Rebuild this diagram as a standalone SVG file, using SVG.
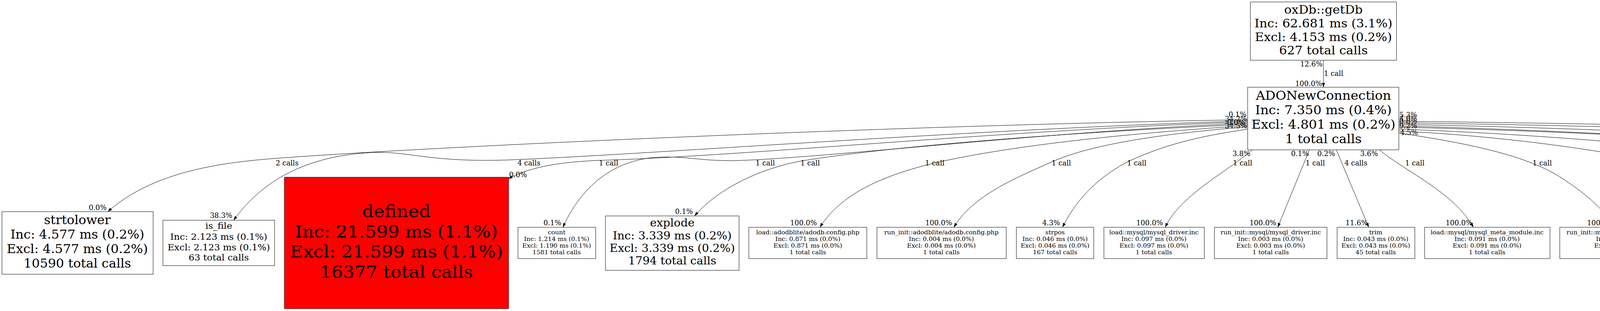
<svg xmlns="http://www.w3.org/2000/svg" width="7268" height="795" viewBox="0 0 7268 795">
<style>
rect{fill:#fff;stroke:#000;stroke-width:1}
rect.hot{fill:#ff0000}
text{font-family:"DejaVu Serif","Liberation Serif",serif;text-anchor:middle;fill:#000}
.n text{transform-box:fill-box;transform-origin:50% 50%}
.s text{font-size:14.4px;transform:scaleX(1.1)}
.x105 text{transform:scaleX(1.05)}
.x107 text{transform:scaleX(1.07)}
.x108 text{transform:scaleX(1.08)}
.x109 text{transform:scaleX(1.09)}
.l{font-size:18px}
.e path{fill:none;stroke:#000;stroke-width:1;marker-end:url(#ah)}
</style>
<defs>
<marker id="ah" markerUnits="userSpaceOnUse" markerWidth="11" markerHeight="8" viewBox="0 0 10 7" refX="10" refY="3.5" orient="auto"><path d="M0,0 L10,3.5 L0,7 z" fill="#000"/></marker>
</defs>
<rect x="0" y="0" width="7268" height="795" style="fill:#fff;stroke:none"/>

<g id="edges" class="e">
<path d="M3388,154 L3388,223"/>
<path d="M3194,306 C2300,320 1100,375 704,405 C560,416 390,440 276,541"/>
<path d="M3194,309 C2500,330 1700,392 1323,408 C1100,418 1050,385 950,390 C800,398 680,450 598,563"/>
<path d="M3194,312 C2600,330 1900,400 1532,410 C1440,414 1360,425 1301,457"/>
<path d="M3194,315 C2700,335 2150,400 1900,410 C1800,414 1760,398 1684,402 C1600,406 1500,450 1441,581"/>
<path d="M3194,318 C2800,335 2300,370 2049,412 C1950,430 1840,480 1778,552"/>
<path d="M3194,321 C2900,340 2600,370 2400,415 C2250,450 2150,500 2099,581"/>
<path d="M3194,324 C3000,340 2800,365 2690,415 C2600,455 2490,500 2442,581"/>
<path d="M3194,330 C3100,345 3000,360 2884,415 C2800,460 2750,520 2720,581"/>
<path d="M3206,383 C3140,440 3020,500 2983,581"/>
<path d="M3352,383 L3271,581"/>
<path d="M3421,383 L3504,581"/>
<path d="M3531,383 C3600,440 3720,490 3772,581"/>
<path d="M3581,340 C3750,365 3900,395 3990,450 C4060,495 4100,530 4135,581"/>
<path d="M3581,335 C3900,350 4200,400 4300,430 C4400,470 4460,510 4508,581"/>
<path d="M3581,330 C4000,345 4500,390 4660,430 C4760,470 4830,510 4883,581"/>
<path d="M3581,325 C4200,340 4850,380 5040,425 C5150,460 5220,510 5273,581"/>
<path d="M3581,322 C4300,340 4900,395 5100,410 C5250,415 5300,405 5400,418 C5530,440 5610,500 5664,581"/>
<path d="M3581,318 C4500,335 5300,400 5500,408 C5650,412 5750,405 5840,420 C5950,450 6030,510 6067,581"/>
<path d="M3581,314 C4800,330 5800,395 6100,410 C6250,418 6400,470 6471,581"/>
<path d="M3581,310 C5000,325 6000,385 6400,411 C6550,416 6620,420 6700,450 C6820,500 6900,530 6948,581"/>
</g>

<g id="edge-labels" class="l">
<text x="3357" y="170">12.6%</text><text x="3414" y="194">1 call</text><text x="3350" y="220">100.0%</text>
<text x="735" y="423">2 calls</text>
<text x="1354" y="423">4 calls</text>
<text x="1558" y="423">1 call</text>
<text x="1959" y="423">1 call</text>
<text x="2074" y="423">1 call</text>
<text x="2393" y="423">1 call</text>
<text x="2717" y="423">1 call</text>
<text x="2910" y="423">1 call</text>
<text x="3181" y="423">1 call</text>
<text x="3367" y="423">1 call</text>
<text x="3471" y="423">4 calls</text>
<text x="3622" y="423">1 call</text>
<text x="3948" y="423">1 call</text>
<text x="4310" y="423">1 call</text>
<text x="4667" y="423">1 call</text>
<text x="5064" y="423">1 call</text>
<text x="5446" y="423">1 call</text>
<text x="5862" y="423">1 call</text>
<text x="6249" y="423">1 call</text>
<text x="6655" y="423">1 call</text>
<text x="250" y="537">0.0%</text>
<text x="566" y="557">38.3%</text>
<text x="1326" y="453">0.0%</text>
<text x="1414" y="576">0.1%</text>
<text x="1751" y="547">0.1%</text>
<text x="2057" y="576">100.0%</text>
<text x="2403" y="576">100.0%</text>
<text x="2691" y="576">4.3%</text>
<text x="2943" y="576">100.0%</text>
<text x="3233" y="576">100.0%</text>
<text x="3473" y="576">11.6%</text>
<text x="3735" y="576">100.0%</text>
<text x="4097" y="576">100.0%</text>
<text x="4470" y="576">100.0%</text>
<text x="4845" y="576">100.0%</text>
<text x="5234" y="576">100.0%</text>
<text x="5625" y="576">100.0%</text>
<text x="6030" y="576">100.0%</text>
<text x="6434" y="576">100.0%</text>
<text x="6910" y="576">100.0%</text>
<text x="3178" y="399">3.8%</text>
<text x="3328" y="399">0.1%</text>
<text x="3395" y="399">0.2%</text>
<text x="3505" y="399">3.6%</text>
<text x="3168" y="299">0.1%</text>
<text x="3217" y="302">0.2%</text>
<text x="3164" y="310">34.2%</text>
<text x="3217" y="311">0.6%</text>
<text x="3164" y="319">0.0%</text>
<text x="3164" y="328">34.5%</text>
<text x="3217" y="334">0.4%</text>
<text x="3556" y="299">2.1%</text>
<text x="3605" y="300">5.3%</text>
<text x="3605" y="309">4.0%</text>
<text x="3605" y="316">0.0%</text>
<text x="3556" y="325">0.0%</text>
<text x="3605" y="328">9.2%</text>
<text x="3607" y="345">4.5%</text>
</g>

<g id="n-oxdb" class="n x109" style="font-size:29px"><rect x="3201" y="5" width="374" height="149"/>
<text x="3388" y="35.5">oxDb::getDb</text><text x="3388" y="70.5">Inc: 62.681 ms (3.1%)</text><text x="3388" y="105.5">Excl: 4.153 ms (0.2%)</text><text x="3388" y="139">627 total calls</text></g>

<g id="n-adonew" class="n x107" style="font-size:31px"><rect x="3194" y="223" width="387" height="160"/>
<text x="3388" y="255.5">ADONewConnection</text><text x="3388" y="292.5">Inc: 7.350 ms (0.4%)</text><text x="3388" y="329.5">Excl: 4.801 ms (0.2%)</text><text x="3388" y="366.5">1 total calls</text></g>

<g id="n-strtolower" class="n x105" style="font-size:31px"><rect x="5" y="541" width="387" height="160"/>
<text x="198" y="573">strtolower</text><text x="198" y="610">Inc: 4.577 ms (0.2%)</text><text x="198" y="647">Excl: 4.577 ms (0.2%)</text><text x="198" y="684">10590 total calls</text></g>

<g id="n-is_file" class="n x105" style="font-size:22.5px"><rect x="417" y="563" width="286" height="116"/>
<text x="560" y="585">is_file</text><text x="560" y="613">Inc: 2.123 ms (0.1%)</text><text x="560" y="640">Excl: 2.123 ms (0.1%)</text><text x="560" y="666">63 total calls</text></g>

<g id="n-defined" class="n x108" style="font-size:43px"><rect class="hot" x="728" y="453" width="574" height="336"/>
<text x="1015" y="555">defined</text><text x="1015" y="607">Inc: 21.599 ms (1.1%)</text><text x="1015" y="658">Excl: 21.599 ms (1.1%)</text><text x="1015" y="710">16377 total calls</text></g>

<g id="n-count" class="n s"><rect x="1326" y="581" width="199" height="80"/>
<text x="1425" y="599">count</text><text x="1425" y="616">Inc: 1.214 ms (0.1%)</text><text x="1425" y="633">Excl: 1.190 ms (0.1%)</text><text x="1425" y="650">1581 total calls</text></g>

<g id="n-explode" class="n x107" style="font-size:27px"><rect x="1550" y="552" width="342" height="139"/>
<text x="1721" y="579">explode</text><text x="1721" y="612">Inc: 3.339 ms (0.2%)</text><text x="1721" y="644">Excl: 3.339 ms (0.2%)</text><text x="1721" y="676">1794 total calls</text></g>

<g id="n-load-adodb-config" class="n s"><rect x="1917" y="581" width="302" height="80"/>
<text x="2068" y="599">load::adodblite/adodb.config.php</text><text x="2068" y="616">Inc: 0.871 ms (0.0%)</text><text x="2068" y="633">Excl: 0.871 ms (0.0%)</text><text x="2068" y="650">1 total calls</text></g>

<g id="n-run-adodb-config" class="n s"><rect x="2245" y="581" width="331" height="80"/>
<text x="2410" y="599">run_init::adodblite/adodb.config.php</text><text x="2410" y="616">Inc: 0.004 ms (0.0%)</text><text x="2410" y="633">Excl: 0.004 ms (0.0%)</text><text x="2410" y="650">1 total calls</text></g>

<g id="n-strpos" class="n s"><rect x="2602" y="581" width="198" height="80"/>
<text x="2701" y="599">strpos</text><text x="2701" y="616">Inc: 0.046 ms (0.0%)</text><text x="2701" y="633">Excl: 0.046 ms (0.0%)</text><text x="2701" y="650">167 total calls</text></g>

<g id="n-load-mysql-driver" class="n s"><rect x="2826" y="581" width="257" height="80"/>
<text x="2954" y="599">load::mysql/mysql_driver.inc</text><text x="2954" y="616">Inc: 0.097 ms (0.0%)</text><text x="2954" y="633">Excl: 0.097 ms (0.0%)</text><text x="2954" y="650">1 total calls</text></g>

<g id="n-run-mysql-driver" class="n s"><rect x="3109" y="581" width="288" height="80"/>
<text x="3253" y="599">run_init::mysql/mysql_driver.inc</text><text x="3253" y="616">Inc: 0.003 ms (0.0%)</text><text x="3253" y="633">Excl: 0.003 ms (0.0%)</text><text x="3253" y="650">1 total calls</text></g>

<g id="n-trim" class="n s"><rect x="3423" y="581" width="199" height="80"/>
<text x="3522" y="599">trim</text><text x="3522" y="616">Inc: 0.043 ms (0.0%)</text><text x="3522" y="633">Excl: 0.043 ms (0.0%)</text><text x="3522" y="650">45 total calls</text></g>

<g id="n-load-mysql-meta" class="n s"><rect x="3647" y="581" width="321" height="80"/>
<text x="3807" y="599">load::mysql/mysql_meta_module.inc</text><text x="3807" y="616">Inc: 0.091 ms (0.0%)</text><text x="3807" y="633">Excl: 0.091 ms (0.0%)</text><text x="3807" y="650">1 total calls</text></g>

<g id="n-run-mysql-meta" class="n s"><rect x="3993" y="581" width="353" height="80"/>
<text x="4169" y="599">run_init::mysql/mysql_meta_module.inc</text><text x="4169" y="616">Inc: 0.114 ms (0.0%)</text><text x="4169" y="633">Excl: 0.054 ms (0.0%)</text><text x="4169" y="650">1 total calls</text></g>

<g id="n-load-mysql-extend" class="n s"><rect x="4369" y="581" width="339" height="80"/>
<text x="4538" y="599">load::mysql/mysql_extend_module.inc</text><text x="4538" y="616">Inc: 0.051 ms (0.0%)</text><text x="4538" y="633">Excl: 0.051 ms (0.0%)</text><text x="4538" y="650">1 total calls</text></g>

<g id="n-run-mysql-extend" class="n s"><rect x="4731" y="581" width="369" height="80"/>
<text x="4915" y="599">run_init::mysql/mysql_extend_module.inc</text><text x="4915" y="616">Inc: 0.119 ms (0.0%)</text><text x="4915" y="633">Excl: 0.057 ms (0.0%)</text><text x="4915" y="650">1 total calls</text></g>

<g id="n-load-pear" class="n s"><rect x="5124" y="581" width="356" height="80"/>
<text x="5302" y="599">load::generic_modules/pear_module.inc</text><text x="5302" y="616">Inc: 0.053 ms (0.0%)</text><text x="5302" y="633">Excl: 0.053 ms (0.0%)</text><text x="5302" y="650">1 total calls</text></g>

<g id="n-run-pear" class="n s"><rect x="5505" y="581" width="387" height="80"/>
<text x="5698" y="599">run_init::generic_modules/pear_module.inc</text><text x="5698" y="616">Inc: 0.132 ms (0.0%)</text><text x="5698" y="633">Excl: 0.064 ms (0.0%)</text><text x="5698" y="650">1 total calls</text></g>

<g id="n-load-object" class="n s"><rect x="5916" y="581" width="368" height="80"/>
<text x="6100" y="599">load::generic_modules/object_module.inc</text><text x="6100" y="616">Inc: 0.048 ms (0.0%)</text><text x="6100" y="633">Excl: 0.048 ms (0.0%)</text><text x="6100" y="650">1 total calls</text></g>

<g id="n-run-object" class="n s"><rect x="6309" y="581" width="398" height="80"/>
<text x="6508" y="599">run_init::generic_modules/object_module.inc</text><text x="6508" y="616">Inc: 0.134 ms (0.0%)</text><text x="6508" y="633">Excl: 0.065 ms (0.0%)</text><text x="6508" y="650">1 total calls</text></g>

<g id="n-mysql-ado" class="n s"><rect x="6732" y="581" width="531" height="80"/>
<text x="6997" y="599">mysql_driver_ADOConnection::mysql_driver_ADOConnection</text><text x="6997" y="616">Inc: 0.003 ms (0.0%)</text><text x="6997" y="633">Excl: 0.003 ms (0.0%)</text><text x="6997" y="650">1 total calls</text></g>
</svg>
